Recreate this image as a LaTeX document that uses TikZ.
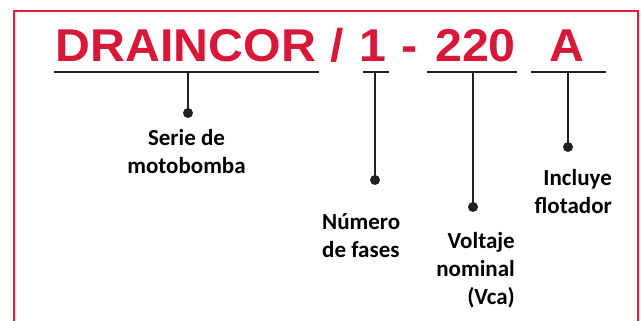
\documentclass[tikz,border=0pt]{standalone}
\usepackage{fontspec}
\newfontfamily\titlefont[FakeStretch=1.05]{Liberation Sans}
\newfontfamily\labelfont{Carlito}
\usetikzlibrary{positioning}
\definecolor{marcored}{RGB}{226,29,61}
\definecolor{titlered}{RGB}{215,24,56}
\definecolor{linegray}{RGB}{35,31,32}
\tikzstyle{title} = [anchor=base, inner sep=0pt, text=titlered, font=\titlefont\bfseries\fontsize{46}{50}\selectfont]
\tikzstyle{uline} = [draw=linegray, line width=2.6pt]
\tikzstyle{dot} = [circle, fill=linegray, inner sep=0pt, minimum size=10pt]
\tikzstyle{desc} = [inner sep=0pt, text=black, font=\labelfont\bfseries\fontsize{23}{27.7}\selectfont]

\begin{document}
\begin{tikzpicture}[x=1pt, y=-1pt]
  \path[use as bounding box, clip] (0,0) rectangle (641,321);
  \draw[marcored, line width=2pt] (14,330) -- (14,11) -- (638,11) -- (638,330);

  % codigo
  \node (serie) [title] at (186,62) {DRAINCOR};
  \node (barra) [title] at (337,62) {/};
  \node (fases) [title] at (372.5,62) {1};
  \node (guion) [title] at (410,62) {-};
  \node (volts) [title] at (475.5,62) {220};
  \node (flota) [title] at (566.5,62) {A};

  % subrayados
  \draw[uline] (54,72) -- (319,72);
  \draw[uline] (363,72) -- (389,72);
  \draw[uline] (427,72) -- (517,72);
  \draw[uline] (531,72) -- (606,72);

  \coordinate (t1) at (188,72);
  \coordinate (t2) at (375,72);
  \coordinate (t3) at (473,72);
  \coordinate (t4) at (568,72);
  \node (d1) [dot] at (188,113) {};
  \node (d2) [dot] at (375,180) {};
  \node (d3) [dot] at (473,207) {};
  \node (d4) [dot] at (568,147) {};
  \draw[uline] (t1) -- (d1.center);
  \draw[uline] (t2) -- (d2.center);
  \draw[uline] (t3) -- (d3.center);
  \draw[uline] (t4) -- (d4.center);

  % descripciones (base = ultima linea)
  \node (in1) [desc, align=center, anchor=base] at (186.5,173) {Serie de\\motobomba};
  \node (in2) [desc, align=left, anchor=base west] at (322,257) {Número\\de fases};
  \node (in3) [desc, align=right, anchor=base east] at (515,304) {Voltaje\\nominal\\(Vca)};
  \node (in4) [desc, align=right, anchor=base east] at (612,213) {Incluye\\flotador};
\end{tikzpicture}
\end{document}
